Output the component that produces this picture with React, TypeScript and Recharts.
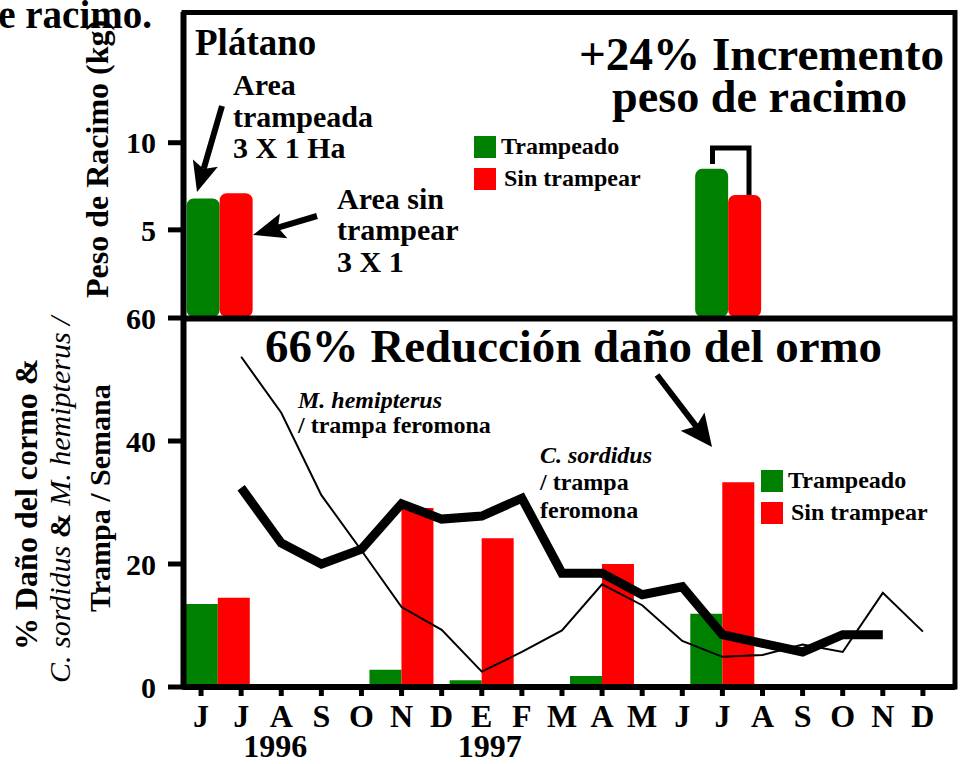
import { ComposedChart, Bar, Line, XAxis, YAxis } from 'recharts';

// eje de meses (jun 1996 - dic 1997)
const meses = ['J', 'J', 'A', 'S', 'O', 'N', 'D', 'E', 'F', 'M', 'A', 'M', 'J', 'J', 'A', 'S', 'O', 'N', 'D'];
const etiquetasAnio = ['1996', '1997'];
const posicionAnio = [1.85, 7.2];

// peso de racimo (kg)
const posicionPeso = [0.47, 13.15];
const pesoTrampeado = [6.8, 8.5];
const pesoSinTrampear = [7.1, 7.0];

// % daño del cormo
const posicionDano = [0.42, 5, 7, 10, 13];
const danoTrampeado = [13.5, 2.8, 1.1, 1.8, 11.9];
const danoSinTrampear = [14.5, 29.1, 24.2, 20.0, 33.3];

// capturas / trampa feromona / semana
const cSordidus = [null, 32.4, 23.4, 20.0, 22.4, 29.8, 27.3, 27.8, 30.7, 18.5, 18.5, 15.0, 16.3, 8.5, 7.1, 5.7, 8.5, 8.5, null];
const mHemipterus = [null, 53.7, 44.6, 31.2, 22.2, 13.0, 9.3, 2.5, 5.7, 9.2, 16.7, 13.3, 7.5, 4.9, 5.2, 6.9, 5.7, 15.3, 9.0];

const datosPeso = posicionPeso.map((x, i) => ({ x, trampeado: pesoTrampeado[i], sinTrampear: pesoSinTrampear[i] }));
const datosDano = posicionDano.map((x, i) => ({ x, trampeado: danoTrampeado[i], sinTrampear: danoSinTrampear[i] }));
const datosTrampas = meses.map((mes, i) => ({ x: i, mes, sordidus: cSordidus[i], hemipterus: mHemipterus[i] }));

const VERDE = '#008000';
const ROJO = '#ff0000';
const fuente = "'Liberation Serif', 'Times New Roman', serif";
const dominioX: [number, number] = [-0.45, 18.8];
const ticksMes = meses.map((_, i) => i);
const estiloTick = { fill: '#000', fontSize: 30, fontWeight: 700, fontFamily: fuente };
const lineaEje = { stroke: '#000', strokeWidth: 5 };

const Flecha = ({ x1, y1, x2, y2, largo = 30, ancho = 26, grosor = 6 }: any) => {
  const d = Math.hypot(x2 - x1, y2 - y1);
  const ux = (x2 - x1) / d;
  const uy = (y2 - y1) / d;
  const bx = x2 - ux * largo;
  const by = y2 - uy * largo;
  const px = (-uy * ancho) / 2;
  const py = (ux * ancho) / 2;
  const mx = bx + ux * 6;
  const my = by + uy * 6;
  return (
    <g>
      <line x1={x1} y1={y1} x2={mx} y2={my} stroke="#000" strokeWidth={grosor} />
      <polygon points={`${x2},${y2} ${bx + px},${by + py} ${mx},${my} ${bx - px},${by - py}`} fill="#000" />
    </g>
  );
};

const Leyenda = ({ x, y }: { x: number; y: number }) => (
  <g fontFamily={fuente} fontWeight={700} fontSize={24}>
    <rect x={x} y={y} width={22} height={22} fill={VERDE} />
    <text x={x + 27} y={y + 18}>Trampeado</text>
    <rect x={x} y={y + 32} width={22} height={22} fill={ROJO} />
    <text x={x + 30} y={y + 50}>Sin trampear</text>
  </g>
);

const capa = { position: 'absolute' as const, left: 0, top: 0 };

export default function App() {
  return (
    <div style={{ position: 'absolute', left: 0, top: 0, width: 964, height: 764, overflow: 'hidden', background: '#fff' }}>
      {/* panel superior: peso de racimo */}
      <div style={capa}>
        <ComposedChart width={964} height={764} data={datosPeso} barGap={0}
          margin={{ top: 12, right: 9, bottom: 447, left: 123 }}>
          <XAxis dataKey="x" type="number" domain={dominioX} allowDataOverflow hide />
          <YAxis domain={[0, 17.5]} ticks={[5, 10]} width={60} tickSize={15} tickMargin={12}
            tick={estiloTick} axisLine={lineaEje} tickLine={lineaEje} allowDataOverflow />
          <Bar dataKey="trampeado" name="Trampeado" fill={VERDE} barSize={33} radius={7} isAnimationActive={false} />
          <Bar dataKey="sinTrampear" name="Sin trampear" fill={ROJO} barSize={33} radius={7} isAnimationActive={false} />
        </ComposedChart>
      </div>

      {/* panel inferior: barras de daño */}
      <div style={capa}>
        <ComposedChart width={964} height={764} data={datosDano} barGap={0}
          margin={{ top: 318, right: 9, bottom: 77, left: 183 }}>
          <XAxis dataKey="x" type="number" domain={dominioX} allowDataOverflow hide />
          <YAxis domain={[0, 60]} allowDataOverflow hide />
          <Bar dataKey="trampeado" name="Trampeado" fill={VERDE} barSize={32} isAnimationActive={false} />
          <Bar dataKey="sinTrampear" name="Sin trampear" fill={ROJO} barSize={32} isAnimationActive={false} />
        </ComposedChart>
      </div>

      {/* panel inferior: ejes y capturas */}
      <div style={capa}>
        <ComposedChart width={964} height={764} data={datosTrampas}
          margin={{ top: 318, right: 9, bottom: 7, left: 123 }}>
          <XAxis dataKey="x" type="number" domain={dominioX} allowDataOverflow ticks={ticksMes} interval={0}
            tickFormatter={(v: number) => meses[v]} height={40} tickSize={9} tickMargin={8}
            tick={{ ...estiloTick, fontSize: 32 }} axisLine={{ stroke: '#000', strokeWidth: 6 }} tickLine={lineaEje} />
          <XAxis xAxisId="anio" dataKey="x" type="number" domain={dominioX} allowDataOverflow ticks={posicionAnio}
            interval={0} tickFormatter={(v: number) => etiquetasAnio[posicionAnio.indexOf(v)]} height={30}
            tickSize={0} tickMargin={7} tick={{ ...estiloTick, fontSize: 32 }} axisLine={false} tickLine={false} />
          <YAxis domain={[0, 60]} ticks={[0, 20, 40, 60]} width={60} tickSize={15} tickMargin={12}
            tick={estiloTick} axisLine={lineaEje} tickLine={lineaEje} allowDataOverflow />
          <Line dataKey="hemipterus" type="linear" stroke="#000" strokeWidth={2} dot={false} connectNulls isAnimationActive={false} />
          <Line dataKey="sordidus" type="linear" stroke="#000" strokeWidth={9} dot={false} connectNulls isAnimationActive={false} />
        </ComposedChart>
      </div>

      <svg width={964} height={764} style={{ ...capa, pointerEvents: 'none' }} fontFamily={fuente}>
        {/* marco de los dos paneles */}
        <rect x={184} y={12.5} width={771} height={674.5} fill="none" stroke="#000" strokeWidth={5} />
        <line x1={181} y1={318.5} x2={955} y2={318.5} stroke="#000" strokeWidth={6} />

        <text x={152} y={28} textAnchor="end" fontSize={39} fontWeight={700}>e racimo.</text>
        <text transform="translate(108,298) rotate(-90)" fontSize={32} fontWeight={700}>Peso de Racimo (kg)</text>

        <text x={195} y={55} fontSize={37} fontWeight={700}>Plátano</text>
        <g fontSize={30} fontWeight={700}>
          <text x={233} y={95}>Area</text>
          <text x={233} y={127}>trampeada</text>
          <text x={233} y={158}>3 X 1 Ha</text>
          <text x={337} y={209}>Area sin</text>
          <text x={337} y={240}>trampear</text>
          <text x={337} y={272}>3 X 1</text>
        </g>
        <Flecha x1={222} y1={106} x2={197} y2={192} largo={30} ancho={26} />
        <Flecha x1={317} y1={216} x2={253} y2={235} largo={32} ancho={26} />

        <g fontSize={46} fontWeight={700}>
          <text x={579} y={70} textLength={365} lengthAdjust="spacingAndGlyphs">+24% Incremento</text>
          <text x={612} y={112} textLength={295} lengthAdjust="spacingAndGlyphs">peso de racimo</text>
          <text x={265} y={362} textLength={617} lengthAdjust="spacingAndGlyphs">66% Reducción daño del ormo</text>
        </g>
        <path d="M712.5,164 V148 H749 V195" fill="none" stroke="#000" strokeWidth={5} />
        <Leyenda x={474} y={136} />
        <Leyenda x={761} y={470} />

        <Flecha x1={657} y1={375} x2={712} y2={447} largo={32} ancho={30} />

        <g fontSize={24} fontWeight={700}>
          <text x={298} y={408} fontStyle="italic">M. hemipterus</text>
          <text x={298} y={433}>/ trampa feromona</text>
          <text x={540} y={463} fontStyle="italic">C. sordidus</text>
          <text x={540} y={490}>/ trampa</text>
          <text x={540} y={518}>feromona</text>
        </g>

        <text transform="translate(37,650) rotate(-90)" fontSize={32} fontWeight={700}>% Daño del cormo &amp;</text>
        <text transform="translate(70,683) rotate(-90)" fontSize={30}>
          <tspan fontStyle="italic">C. sordidus</tspan>
          <tspan fontWeight={700}>{' & '}</tspan>
          <tspan fontStyle="italic">M. hemipterus /</tspan>
        </text>
        <text transform="translate(110,612) rotate(-90)" fontSize={30} fontWeight={700}>Trampa / Semana</text>
      </svg>
    </div>
  );
}
